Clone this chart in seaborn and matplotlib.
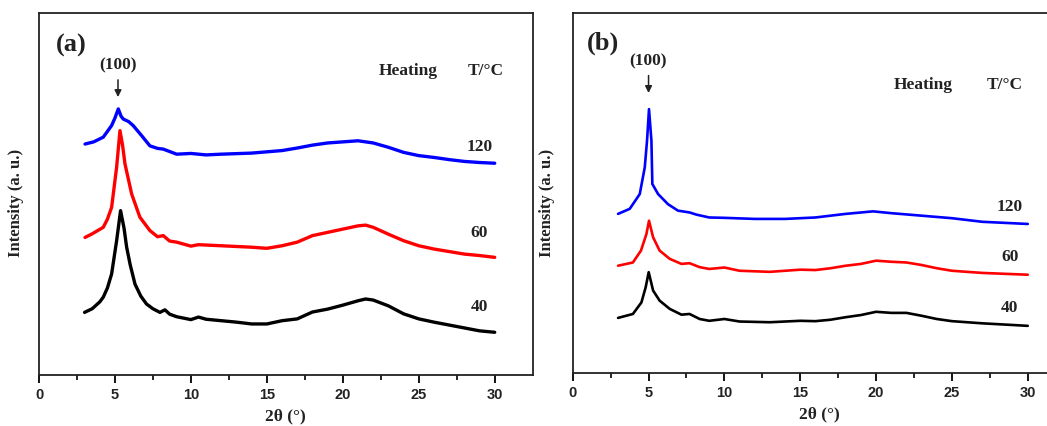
import matplotlib
matplotlib.use("Agg")
import matplotlib.pyplot as plt
import seaborn as sns
import pandas as pd

# ---------------- data (arbitrary intensity units) ----------------
# Panel (a)
a40_x = [3.0, 3.5, 4.0, 4.23, 4.5, 4.78, 5.11, 5.37, 5.6, 5.77, 6.0, 6.32, 6.7, 7.08, 7.5, 7.96, 8.29, 8.6,
         9.06, 10.0, 10.5, 11.0, 12.0, 13.0, 14.0, 15.0, 16.0, 17.0, 18.0, 19.0, 20.0, 21.0, 21.5, 22.0,
         23.0, 24.0, 25.0, 26.0, 27.0, 28.0, 29.0, 30.0]
a40_y = [17.3, 18.3, 20.2, 21.5, 24.0, 27.9, 37.1, 45.4, 40.5, 35.3, 30.5, 25.1, 21.8, 19.6, 18.3, 17.3, 18.0, 16.8,
         16.1, 15.3, 16.0, 15.4, 15.0, 14.6, 14.1, 14.1, 15.0, 15.5, 17.4, 18.2, 19.3, 20.5, 21.0, 20.7,
         19.1, 16.9, 15.5, 14.6, 13.8, 13.0, 12.2, 11.8]

a60_x = [3.03, 3.5, 4.23, 4.5, 4.78, 5.11, 5.33, 5.5, 5.66, 6.1, 6.64, 7.3, 7.8, 8.18, 8.6, 9.06, 10.0, 10.5,
         12.0, 13.0, 14.0, 15.0, 16.0, 17.0, 18.0, 19.0, 20.0, 21.0, 21.5, 22.0, 23.0, 24.0, 25.0, 26.0,
         27.0, 28.0, 29.0, 30.0]
a60_y = [38.0, 39.0, 40.8, 43.0, 46.3, 57.4, 67.5, 63.5, 58.3, 50.0, 43.6, 39.9, 38.2, 38.5, 37.0, 36.7, 35.6, 36.0,
         35.7, 35.5, 35.3, 35.0, 35.7, 36.7, 38.5, 39.4, 40.3, 41.2, 41.4, 40.8, 38.9, 37.1, 35.7, 34.8,
         34.1, 33.4, 33.0, 32.5]

a120_x = [3.03, 3.6, 4.23, 4.78, 5.0, 5.22, 5.4, 5.55, 5.9, 6.2, 6.76, 7.3, 7.8, 8.18, 9.06, 10.0, 11.0, 12.0,
          14.0, 16.0, 17.0, 18.0, 19.0, 20.0, 21.0, 22.0, 23.0, 24.0, 25.0, 26.0, 27.0, 28.0, 29.0, 30.0]
a120_y = [63.8, 64.4, 65.7, 68.9, 71.0, 73.5, 71.5, 70.7, 70.0, 68.9, 66.1, 63.3, 62.6, 62.4, 61.0, 61.2, 60.8, 61.0,
          61.3, 62.0, 62.7, 63.5, 64.1, 64.4, 64.7, 64.1, 62.9, 61.5, 60.6, 60.1, 59.5, 59.0, 58.7, 58.5]

# Panel (b)
b40_x = [2.99, 3.97, 4.53, 4.81, 5.01, 5.3, 5.73, 6.4, 7.17, 7.7, 8.37, 9.0, 10.0, 11.0, 13.0, 15.0, 16.0,
         17.0, 18.0, 19.0, 20.0, 21.0, 22.0, 23.0, 24.0, 25.0, 27.0, 30.0]
b40_y = [15.3, 16.4, 19.6, 23.8, 28.0, 22.9, 20.1, 17.8, 16.2, 16.4, 15.0, 14.5, 15.0, 14.3, 14.1, 14.5, 14.4,
         14.8, 15.5, 16.1, 17.0, 16.7, 16.7, 15.9, 15.0, 14.4, 13.8, 13.1]

b60_x = [2.99, 3.97, 4.5, 4.86, 5.03, 5.3, 5.73, 6.4, 7.17, 7.7, 8.37, 9.0, 10.0, 11.0, 13.0, 15.0, 16.0,
         17.0, 18.0, 19.0, 20.0, 21.0, 22.0, 23.0, 24.0, 25.0, 27.0, 30.0]
b60_y = [29.8, 30.7, 34.0, 38.6, 42.3, 37.7, 34.0, 31.7, 30.3, 30.5, 29.4, 28.9, 29.3, 28.4, 28.1, 28.7, 28.6,
         29.1, 29.8, 30.3, 31.2, 30.9, 30.7, 30.0, 29.1, 28.4, 27.8, 27.3]

b120_x = [2.99, 3.76, 4.42, 4.75, 4.9, 5.03, 5.19, 5.25, 5.63, 6.28, 6.94, 7.7, 8.15, 9.0, 10.0, 12.0, 14.0,
          16.0, 18.0, 19.8, 21.0, 23.0, 25.0, 27.0, 30.0]
b120_y = [44.2, 45.6, 49.7, 57.1, 64.5, 73.3, 64.5, 52.5, 49.7, 46.9, 45.1, 44.6, 44.0, 43.2, 43.1, 42.8, 42.8,
          43.2, 44.2, 44.9, 44.4, 43.7, 43.0, 42.0, 41.4]

temps = ["40", "60", "120"]
colors = ["#000000", "#ff0000", "#0000ff"]
x_ticks = [0, 5, 10, 15, 20, 25, 30]

# ---------------- styling ----------------
sns.set_theme(style="white")
plt.rcParams["font.family"] = ["Liberation Serif", "DejaVu Serif"]
SERIF = ["Liberation Serif", "DejaVu Serif"]
SANS = ["Liberation Sans", "DejaVu Sans"]

W, H = 1047, 427
fig = plt.figure(figsize=(W / 100, H / 100), dpi=100)
ax_a = fig.add_axes([39 / W, 51 / H, 493.7 / W, 362 / H])
ax_b = fig.add_axes([572.7 / W, 53 / H, 493 / W, 360 / H])

panels = [
    (ax_a, [(a40_x, a40_y), (a60_x, a60_y), (a120_x, a120_y)], 2.4),
    (ax_b, [(b40_x, b40_y), (b60_x, b60_y), (b120_x, b120_y)], 1.9),
]

for ax, curves, lw in panels:
    for (xs, ys), t, c in zip(curves, temps, colors):
        df = pd.DataFrame({"two_theta": xs, "intensity": ys})
        sns.lineplot(data=df, x="two_theta", y="intensity", ax=ax, color=c, lw=lw,
                     estimator=None, sort=False, solid_joinstyle="round")
    ax.set_xlim(0, 32.5)
    ax.set_ylim(0, 100)
    ax.set_yticks([])
    ax.set_xticks(x_ticks)
    ax.set_xticks([2.5, 7.5, 12.5, 17.5, 22.5, 27.5], minor=True)
    ax.tick_params(axis="x", which="major", direction="out", length=6, width=1.3,
                   color="black", pad=3, bottom=True)
    ax.tick_params(axis="x", which="minor", direction="out", length=3.5, width=1.2,
                   color="black", bottom=True)
    for lab in ax.get_xticklabels():
        lab.set_family(SANS)
        lab.set_fontweight("bold")
        lab.set_fontsize(10.5)
        lab.set_color("#222222")
    for sp in ax.spines.values():
        sp.set_visible(True)
        sp.set_color("#222222")
        sp.set_linewidth(1.3)
    ax.set_xlabel("2θ (°)", family=SERIF, fontweight="bold", fontsize=12.5,
                  labelpad=4, color="#222222")
    ax.set_ylabel("Intensity (a. u.)", family=SERIF, fontweight="bold", fontsize=12,
                  color="#222222")
    ax.grid(False)

ax_a.yaxis.set_label_coords(-0.031, 0.478)
ax_b.yaxis.set_label_coords(-0.036, 0.475)

txt = dict(family=SERIF, fontweight="bold", color="#222222", ha="center", va="center")

# panel (a) annotations
ax_a.text(2.1, 91.4, "(a)", fontsize=19, **txt)
ax_a.text(5.2, 85.9, "(100)", fontsize=12.5, **txt)
ax_a.annotate("", xy=(5.2, 76.0), xytext=(5.2, 82.3),
              arrowprops=dict(arrowstyle="-|>", color="#222222", lw=1.1, mutation_scale=10))
ax_a.text(24.3, 84.3, "Heating", fontsize=12.5, **txt)
ax_a.text(29.4, 84.3, "T/°C", fontsize=12.5, **txt)
for t, yy in zip(temps, [19.1, 39.5, 63.3]):
    ax_a.text(29.0, yy, t, fontsize=12.5, **txt)

# panel (b) annotations
ax_b.text(2.0, 91.9, "(b)", fontsize=19, **txt)
ax_b.text(4.96, 86.8, "(100)", fontsize=12.5, **txt)
ax_b.annotate("", xy=(5.0, 77.0), xytext=(5.0, 83.4),
              arrowprops=dict(arrowstyle="-|>", color="#222222", lw=1.1, mutation_scale=10))
ax_b.text(23.1, 80.3, "Heating", fontsize=12.5, **txt)
ax_b.text(28.5, 80.3, "T/°C", fontsize=12.5, **txt)
for t, yy in zip(temps, [18.2, 32.4, 46.5]):
    ax_b.text(28.8, yy, t, fontsize=12.5, **txt)

fig.savefig("out.png", dpi=100)
